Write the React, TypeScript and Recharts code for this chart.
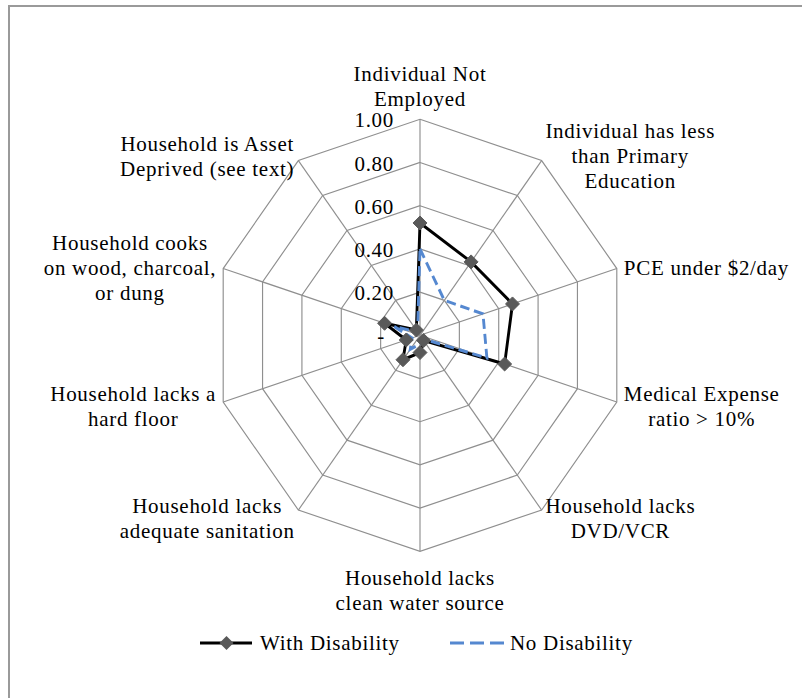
import React from "react";
import { RadarChart, Radar, PolarGrid, PolarAngleAxis, PolarRadiusAxis, Legend } from "recharts";

// ---- data ----
const CATEGORIES: string[] = [
  "Individual Not\nEmployed",
  "Individual has less\nthan Primary\nEducation",
  "PCE under $2/day",
  "Medical Expense\nratio > 10%",
  "Household lacks\nDVD/VCR",
  "Household lacks\nclean water source",
  "Household lacks\nadequate sanitation",
  "Household lacks a\nhard floor",
  "Household cooks\non wood, charcoal,\nor dung",
  "Household is Asset\nDeprived (see text)",
];
const WITH_DISABILITY: number[] = [0.52, 0.42, 0.47, 0.43, 0.03, 0.08, 0.14, 0.07, 0.18, 0.03];
const NO_DISABILITY: number[] = [0.4, 0.2, 0.32, 0.34, 0.02, 0.04, 0.08, 0.04, 0.13, 0.02];
const RADIUS_TICKS: number[] = [0, 0.2, 0.4, 0.6, 0.8, 1.0];
const SERIES_NAMES = { with: "With Disability", no: "No Disability" };

const data = CATEGORIES.map((c, i) => ({ cat: c, with: WITH_DISABILITY[i], no: NO_DISABILITY[i] }));

// ---- layout / style ----
const W = 802;
const H = 698;
const CX = 420;
const CY = 335.3;
const R = 216;
const S = 0.958; // horizontal squash of the plot
const FS = 21;
const LS = 0.7;
const LH = 25;
const FONT = '"Liberation Serif", "Times New Roman", serif';
const BLACK = "#000000";
const BLUE = "#5588d0";
const MARKER = "#595959";
const GRID = "#8f8f8f";

let ctx: CanvasRenderingContext2D | null = null;
function textW(s: string): number {
  if (!ctx) ctx = document.createElement("canvas").getContext("2d");
  if (!ctx) return s.length * FS * 0.45;
  ctx.font = `${FS}px "Liberation Serif"`;
  return ctx.measureText(s).width + LS * s.length;
}

function toSvgX(screenX: number) {
  return CX + (screenX - CX) / S;
}

const AngleTick = (props: any) => {
  const { payload } = props;
  const label: string = String(payload.value);
  const lines = label.split("\n");
  const deg = 90 - Number(payload.coordinate);
  const th = (deg * Math.PI) / 180;
  const sn = Math.sin(th);
  const cs = Math.cos(th);
  const vx = CX + R * S * sn;
  const vy = CY - R * cs;
  const w = Math.max(...lines.map(textW));
  const h = lines.length * LH;
  let cx: number;
  let cy: number;
  if (Math.abs(sn) < 0.1) {
    cx = vx;
    cy = cs > 0 ? vy - (h / 2 + 8) : vy + (h / 2 + 14);
  } else {
    const gap = 9 * Math.abs(sn) - 1.5;
    cx = vx + Math.sign(sn) * (w / 2 + gap);
    cy = vy - cs * 8 + 2;
  }
  const sx = toSvgX(cx);
  return (
    <g transform={`translate(${sx},0) scale(${1 / S},1)`}>
      {lines.map((ln, k) => (
        <text
          key={k}
          x={0}
          y={cy - h / 2 + LH / 2 + LH * k + 7}
          textAnchor="middle"
          fill="#000"
          style={{ fontFamily: FONT, fontSize: FS, letterSpacing: `${LS}px` }}
        >
          {ln}
        </text>
      ))}
    </g>
  );
};

const RadiusTick = (props: any) => {
  const { y, payload } = props;
  const v = Number(payload.value);
  const label = v === 0 ? "-" : v.toFixed(2);
  const edge = v === 0 ? 385 : 394;
  return (
    <g transform={`translate(${toSvgX(edge)},${y}) scale(${1 / S},1)`}>
      <text
        x={0}
        y={8}
        textAnchor="end"
        fill="#000"
        style={{ fontFamily: FONT, fontSize: FS, letterSpacing: `${LS}px` }}
      >
        {label}
      </text>
    </g>
  );
};

const Diamond = (props: any) => {
  const { cx, cy } = props;
  if (cx == null || cy == null) return null;
  const a = 7;
  const ax = a / S;
  return (
    <polygon
      points={`${cx},${cy - a} ${cx + ax},${cy} ${cx},${cy + a} ${cx - ax},${cy}`}
      fill={MARKER}
      stroke={MARKER}
      strokeWidth={1}
    />
  );
};

const LegendContent = () => (
  <div style={{ position: "relative", width: W, height: 30, fontFamily: FONT, fontSize: FS, letterSpacing: `${LS}px` }}>
    <svg width={W} height={30} style={{ position: "absolute", left: 0, top: 0 }}>
      <line x1={200} y1={15} x2={252} y2={15} stroke={BLACK} strokeWidth={3} />
      <polygon points="226.5,8 233.5,15 226.5,22 219.5,15" fill={MARKER} />
      <line x1={450} y1={15} x2={505} y2={15} stroke={BLUE} strokeWidth={3} strokeDasharray="14 6" />
      <text x={260} y={22} fill="#000" style={{ fontFamily: FONT, fontSize: FS, letterSpacing: `${LS}px` }}>
        {SERIES_NAMES.with}
      </text>
      <text x={510} y={22} fill="#000" style={{ fontFamily: FONT, fontSize: FS, letterSpacing: `${LS}px` }}>
        {SERIES_NAMES.no}
      </text>
    </svg>
  </div>
);

export default function App() {
  return (
    <div
      className="rc-main"
      style={{ position: "absolute", left: 0, top: 0, width: W, height: H, overflow: "hidden", background: "#fff" }}
    >
      <style>{`.rc-main svg.recharts-surface { transform: scaleX(${S}); transform-origin: ${CX}px 0px; overflow: visible !important; }`}</style>
      <div
        style={{
          position: "absolute",
          left: 8,
          top: 5,
          width: 820,
          height: 720,
          borderTop: "2px solid #9a9a9a",
          borderLeft: "2px solid #9a9a9a",
          boxSizing: "border-box",
        }}
      />
      <div style={{ position: "absolute", left: 0, top: 0 }}>
        <RadarChart width={W} height={H} data={data} cx={CX} cy={CY} outerRadius={R} margin={{ top: 0, right: 0, bottom: 0, left: 0 }}>
          <PolarGrid gridType="polygon" stroke={GRID} strokeWidth={1.2} />
          <PolarAngleAxis dataKey="cat" tick={AngleTick} tickLine={false} axisLine={false} />
          <PolarRadiusAxis
            angle={90}
            domain={[0, 1]}
            ticks={RADIUS_TICKS as any}
            tickCount={6}
            axisLine={false}
            tickLine={false}
            tick={RadiusTick}
          />
          <Radar
            name={SERIES_NAMES.with}
            dataKey="with"
            stroke={BLACK}
            strokeWidth={3}
            fill="none"
            fillOpacity={0}
            dot={Diamond}
            isAnimationActive={false}
          />
          <Radar
            name={SERIES_NAMES.no}
            dataKey="no"
            stroke={BLUE}
            strokeWidth={3}
            strokeDasharray="10 5"
            fill="none"
            fillOpacity={0}
            dot={false}
            isAnimationActive={false}
          />
          <Legend
            content={LegendContent}
            wrapperStyle={{ position: "absolute", left: 0, top: 628, width: W, height: 30 }}
          />
        </RadarChart>
      </div>
    </div>
  );
}
